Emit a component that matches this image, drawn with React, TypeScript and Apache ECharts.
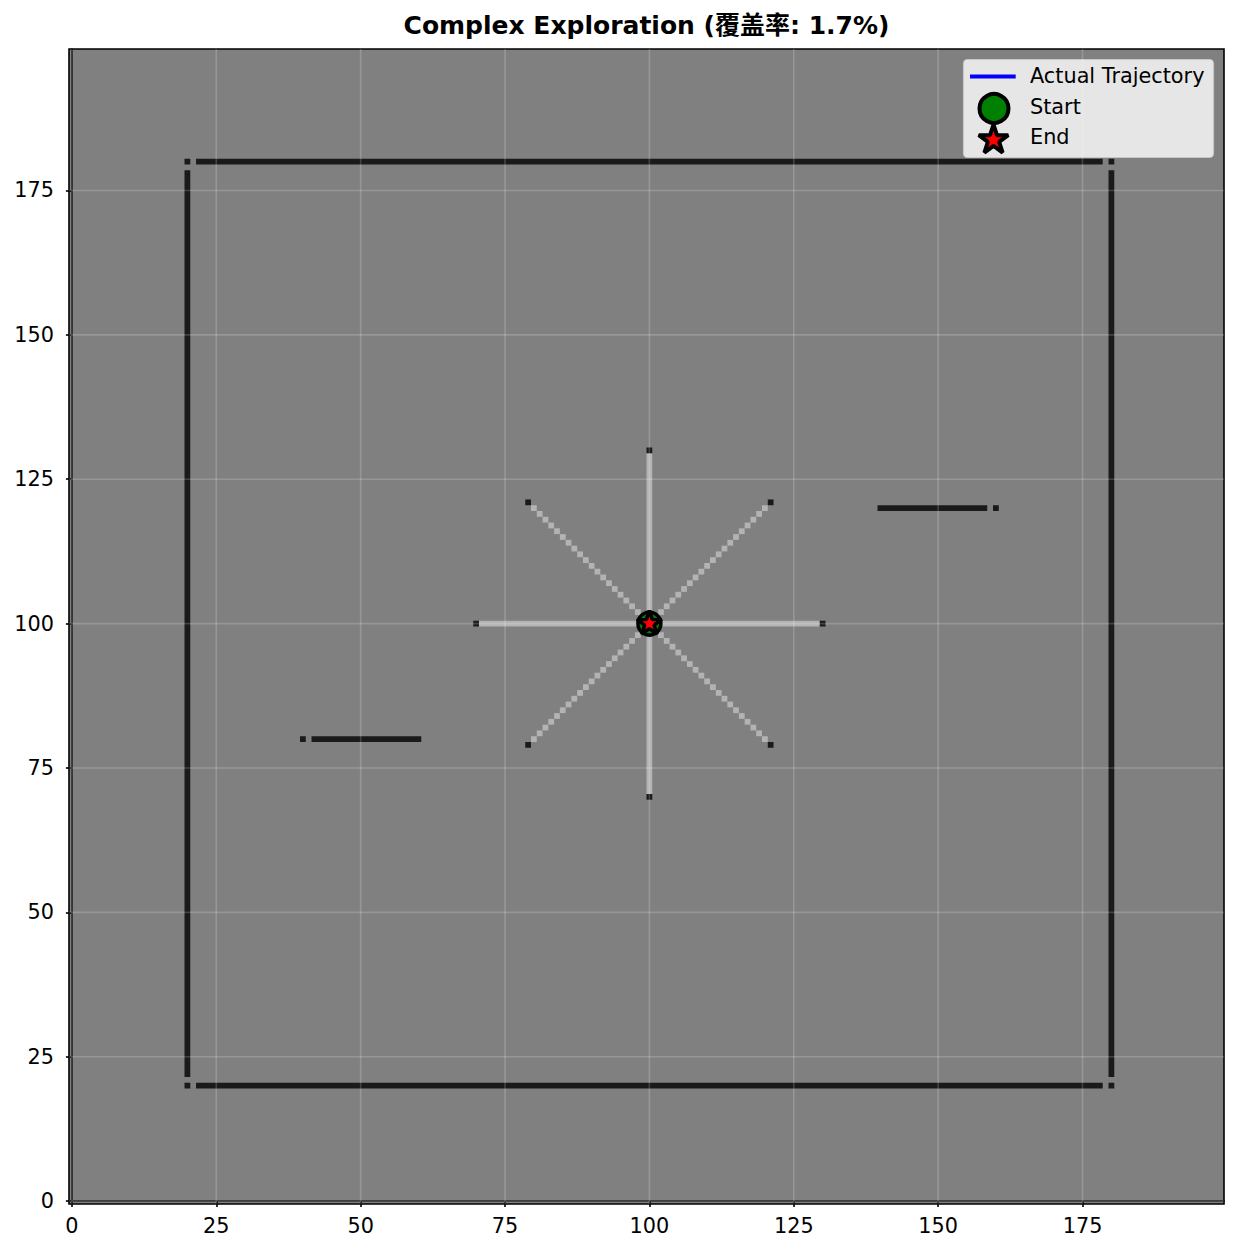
import React, { useEffect, useRef } from "react";
import * as echarts from "echarts";

// ---- data (occupancy grid cells) ----
const TITLE = "Complex Exploration (覆盖率: 1.7%)";
const xTicks = [0, 25, 50, 75, 100, 125, 150, 175];
const yTicks = [0, 25, 50, 75, 100, 125, 150, 175];
const gridMin = -0.5;
const gridMax = 199.5;

// free (scanned) cell runs: [x0, y0, x1, y1] inclusive
const freeRuns = [
  [71, 100, 129, 100],
  [100, 71, 100, 129],
  [101, 101, 120, 120],
  [99, 101, 80, 120],
  [99, 99, 80, 80],
  [101, 99, 120, 80],
];

// occupied cell runs: [x0, y0, x1, y1] inclusive
const occupiedRuns = [
  [22, 180, 178, 180],
  [22, 20, 178, 20],
  [20, 22, 20, 178],
  [180, 22, 180, 178],
  [42, 80, 60, 80],
  [140, 120, 158, 120],
];

// single occupied cells: [x, y]
const occupiedCells = [
  [20, 20], [20, 180], [180, 20], [180, 180],
  [40, 80], [160, 120],
  [70, 100], [130, 100], [100, 70], [100, 130],
  [79, 79], [79, 121], [121, 79], [121, 121],
];

const trajectory = [[100, 100]];
const startPoint = [[100, 100]];
const endPoint = [[100, 100]];

const COLOR_BG = "#808080";
const COLOR_FREE = "#b3b3b3";
const COLOR_OCC = "#1a1a1a";
const FONT = "'DejaVu Sans', 'Noto Sans CJK SC', sans-serif";

const STAR_PTS = [
  [0, -100], [22.45, -30.9], [95.11, -30.9], [36.33, 11.8], [58.78, 80.9],
  [0, 38.2], [-58.78, 80.9], [-36.33, 11.8], [-95.11, -30.9], [-22.45, -30.9],
];
const STAR_PATH =
  "path://M" + STAR_PTS.map((p) => p[0] + "," + p[1]).join(" L") + " Z";

function runRenderer(color: string) {
  return (params: any, api: any) => {
    const x0 = api.value(0), y0 = api.value(1), x1 = api.value(2), y1 = api.value(3);
    const dx = x1 - x0, dy = y1 - y0;
    const cellRect = (ax: number, ay: number, bx: number, by: number) => {
      const p0 = api.coord([Math.min(ax, bx) - 0.5, Math.max(ay, by) + 0.5]);
      const p1 = api.coord([Math.max(ax, bx) + 0.5, Math.min(ay, by) - 0.5]);
      return {
        type: "rect",
        shape: { x: p0[0], y: p0[1], width: p1[0] - p0[0], height: p1[1] - p0[1] },
        style: { fill: color },
      };
    };
    if (dx !== 0 && dy !== 0) {
      const n = Math.abs(dx);
      const sx = Math.sign(dx), sy = Math.sign(dy);
      const children: any[] = [];
      for (let k = 0; k <= n; k++) {
        const cx = x0 + k * sx, cy = y0 + k * sy;
        children.push(cellRect(cx, cy, cx, cy));
      }
      return { type: "group", children };
    }
    return cellRect(x0, y0, x1, y1);
  };
}

export default function App() {
  const ref = useRef<HTMLDivElement>(null);
  useEffect(() => {
    if (!ref.current) return;
    const chart = echarts.init(ref.current, undefined, { renderer: "svg" });
    const gl = { left: 69, top: 49, width: 1155, height: 1155 };
    const legendX = 963.5, legendY = 59.5;
    const starPoly = (cx: number, cy: number, R: number) =>
      STAR_PTS.map((p) => [cx + (p[0] * R) / 100, cy + (p[1] * R) / 100]);

    const option: any = {
      animation: false,
      backgroundColor: "#ffffff",
      textStyle: { fontFamily: FONT },
      grid: {
        ...gl,
        show: true,
        backgroundColor: COLOR_BG,
        borderColor: "#000",
        borderWidth: 1.6,
        containLabel: false,
      },
      xAxis: {
        type: "value",
        min: gridMin,
        max: gridMax,
        axisLine: { show: true, lineStyle: { color: "#000", width: 1.6 } },
        axisTick: { show: true, length: 6, customValues: xTicks, lineStyle: { color: "#000", width: 1.6 } },
        axisLabel: { customValues: xTicks, color: "#000", fontSize: 20.8, fontFamily: FONT, margin: 12 },
        splitLine: { show: false },
      },
      yAxis: {
        type: "value",
        min: gridMin,
        max: gridMax,
        axisLine: { show: true, lineStyle: { color: "#000", width: 1.6 } },
        axisTick: { show: true, length: 6, customValues: yTicks, lineStyle: { color: "#000", width: 1.6 } },
        axisLabel: { customValues: yTicks, color: "#000", fontSize: 20.8, fontFamily: FONT, margin: 15 },
        splitLine: { show: false },
      },
      series: [
        {
          type: "custom",
          name: "free",
          z: 1,
          silent: true,
          data: freeRuns,
          encode: { x: [0, 2], y: [1, 3] },
          renderItem: runRenderer(COLOR_FREE),
        },
        {
          type: "custom",
          name: "occupied",
          z: 1,
          silent: true,
          data: occupiedRuns,
          encode: { x: [0, 2], y: [1, 3] },
          renderItem: runRenderer(COLOR_OCC),
        },
        {
          type: "custom",
          name: "occupiedCells",
          z: 1,
          silent: true,
          data: occupiedCells.map((c) => [c[0], c[1], c[0], c[1]]),
          encode: { x: [0, 2], y: [1, 3] },
          renderItem: runRenderer(COLOR_OCC),
        },
        {
          type: "custom",
          name: "vgrid",
          z: 3,
          silent: true,
          data: xTicks.map((v) => [v, 0]),
          renderItem: (params: any, api: any) => {
            const a = api.coord([api.value(0), gridMin]);
            const b = api.coord([api.value(0), gridMax]);
            return {
              type: "line",
              shape: { x1: a[0], y1: a[1], x2: b[0], y2: b[1] },
              style: { stroke: "rgba(255,255,255,0.18)", lineWidth: 1.6 },
            };
          },
        },
        {
          type: "custom",
          name: "hgrid",
          z: 3,
          silent: true,
          data: yTicks.map((v) => [0, v]),
          renderItem: (params: any, api: any) => {
            const a = api.coord([gridMin, api.value(1)]);
            const b = api.coord([gridMax, api.value(1)]);
            return {
              type: "line",
              shape: { x1: a[0], y1: a[1], x2: b[0], y2: b[1] },
              style: { stroke: "rgba(255,255,255,0.18)", lineWidth: 1.6 },
            };
          },
        },
        {
          type: "line",
          name: "Actual Trajectory",
          z: 5,
          data: trajectory,
          showSymbol: false,
          lineStyle: { color: "#0000ff", width: 4 },
          itemStyle: { color: "#0000ff" },
        },
        {
          type: "scatter",
          name: "Start",
          z: 6,
          data: startPoint,
          symbol: "circle",
          symbolSize: 23,
          itemStyle: { color: "#008000", borderColor: "#000", borderWidth: 3.5, opacity: 1 },
        },
        {
          type: "scatter",
          name: "End",
          z: 7,
          data: endPoint,
          symbol: STAR_PATH,
          symbolSize: [1.902 * 13, 1.809 * 13],
          symbolOffset: [0, -1.24],
          itemStyle: {
            color: "#ff0000",
            borderColor: "#000",
            borderWidth: 3.5,
            borderJoin: "bevel",
            opacity: 1,
          },
        },
      ],
      graphic: [
        {
          type: "text",
          x: 646.5,
          y: 25,
          z: 20,
          style: {
            text: TITLE,
            align: "center",
            verticalAlign: "middle",
            fill: "#000",
            font: "bold 25px " + FONT,
          },
        },
        {
          type: "group",
          z: 20,
          children: [
            {
              type: "rect",
              shape: { x: legendX, y: legendY, width: 250, height: 98, r: 4 },
              style: { fill: "rgba(255,255,255,0.8)", stroke: "rgba(204,204,204,0.8)", lineWidth: 1.2 },
            },
            {
              type: "line",
              shape: { x1: 970, y1: 76.5, x2: 1015.7, y2: 76.5 },
              style: { stroke: "#0000ff", lineWidth: 4.2 },
            },
            {
              type: "text",
              x: 1030,
              y: 76,
              style: { text: "Actual Trajectory", verticalAlign: "middle", fill: "#000", font: "20.8px " + FONT },
            },
            {
              type: "circle",
              shape: { cx: 994, cy: 108.5, r: 14.5 },
              style: { fill: "#008000", stroke: "#000", lineWidth: 4 },
            },
            {
              type: "text",
              x: 1030,
              y: 106.8,
              style: { text: "Start", verticalAlign: "middle", fill: "#000", font: "20.8px " + FONT },
            },
            {
              type: "polygon",
              shape: { points: starPoly(993.5, 140, 15.5) },
              style: { fill: "#ff0000", stroke: "#000", lineWidth: 4, lineJoin: "bevel" },
            },
            {
              type: "text",
              x: 1030,
              y: 137.3,
              style: { text: "End", verticalAlign: "middle", fill: "#000", font: "20.8px " + FONT },
            },
          ],
        },
      ],
    };
    chart.setOption(option);
    return () => chart.dispose();
  }, []);
  return (
    <div
      ref={ref}
      style={{ position: "fixed", left: 0, top: 0, width: 1239, height: 1254, background: "#fff" }}
    />
  );
}
